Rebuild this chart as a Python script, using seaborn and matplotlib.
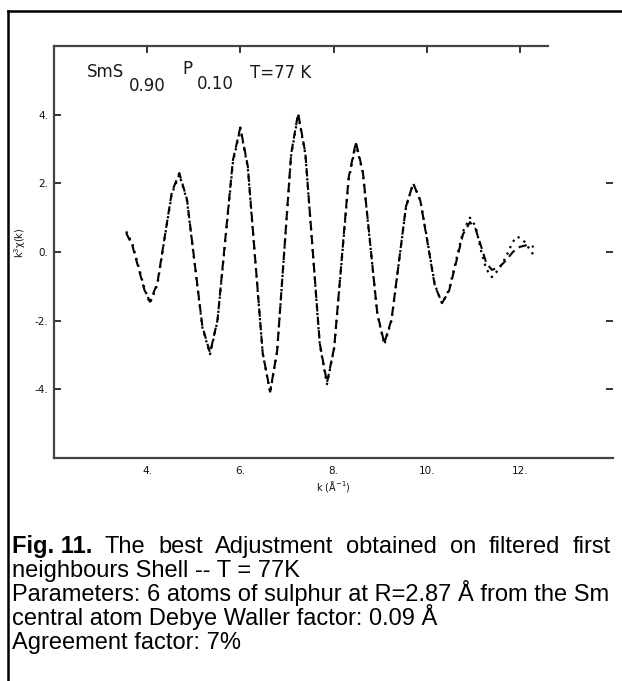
import matplotlib
matplotlib.use("Agg")
import matplotlib.pyplot as plt
import seaborn as sns
import pandas as pd
from matplotlib.lines import Line2D

# k (1/Angstrom) and k^3 chi(k) for the fitted first-shell signal
k_fit = [3.55, 3.68, 3.81, 3.94, 4.06,
         4.22, 4.375, 4.53, 4.69,
         4.855, 5.02, 5.185, 5.35,
         5.51, 5.675, 5.84, 6.0,
         6.16, 6.32, 6.48, 6.64,
         6.79, 6.94, 7.09, 7.24,
         7.395, 7.55, 7.705, 7.86,
         8.015, 8.17, 8.325, 8.48,
         8.63, 8.785, 8.94, 9.09,
         9.245, 9.40, 9.555, 9.71,
         9.865, 10.02, 10.175, 10.33,
         10.48, 10.63, 10.78, 10.93,
         11.05, 11.165, 11.28, 11.40,
         11.55, 11.70, 11.85, 12.0, 12.15, 12.3]
chi_fit = [0.55, 0.2, -0.45, -1.1, -1.45,
           -0.90, 0.43, 1.75, 2.3,
           1.53, -0.32, -2.17, -2.94,
           -1.98, 0.35, 2.67, 3.63,
           2.50, -0.22, -2.94, -4.07,
           -2.88, -0.02, 2.85, 4.04,
           2.89, 0.12, -2.66, -3.81,
           -2.78, -0.31, 2.17, 3.2,
           2.34, 0.28, -1.79, -2.65,
           -1.97, -0.33, 1.32, 2.0,
           1.49, 0.26, -0.98, -1.49,
           -1.14, -0.31, 0.52, 0.87,
           0.67, 0.18, -0.32, -0.52,
           -0.45, -0.25, 0.0, 0.15, 0.2, 0.15]

# filtered experimental signal
k_exp = [3.55, 3.68, 3.81, 3.94, 4.06,
         4.22, 4.375, 4.53, 4.69,
         4.855, 5.02, 5.185, 5.35,
         5.51, 5.675, 5.84, 6.0,
         6.16, 6.32, 6.48, 6.64,
         6.79, 6.94, 7.09, 7.24,
         7.395, 7.55, 7.705, 7.86,
         8.015, 8.17, 8.325, 8.48,
         8.63, 8.785, 8.94, 9.09,
         9.245, 9.40, 9.555, 9.71,
         9.865, 10.02, 10.175, 10.33,
         10.48, 10.63, 10.78, 10.93,
         11.05, 11.165, 11.28, 11.40,
         11.55, 11.70, 11.85, 11.95, 12.1, 12.3]
chi_exp = [0.6, 0.25, -0.4, -1.05, -1.5,
           -0.95, 0.4, 1.7, 2.25,
           1.5, -0.35, -2.2, -2.98,
           -2.0, 0.3, 2.6, 3.6,
           2.45, -0.25, -2.95, -4.1,
           -2.9, -0.05, 2.8, 4.0,
           2.85, 0.1, -2.7, -3.85,
           -2.8, -0.35, 2.1, 3.15,
           2.3, 0.25, -1.8, -2.7,
           -2.0, -0.35, 1.3, 2.0,
           1.5, 0.3, -0.95, -1.5,
           -1.1, -0.25, 0.6, 1.0,
           0.75, 0.05, -0.5, -0.73,
           -0.5, -0.15, 0.3, 0.45, 0.3, -0.1]

x_ticks = [4, 6, 8, 10, 12]
x_tick_labels = ["4.", "6.", "8.", "10.", "12."]
y_ticks = [4, 2, 0, -2, -4]
y_tick_labels = ["4.", "2.", "0.", "-2.", "-4."]

caption_head = "Fig. 11."
caption_line1 = ["The", "best", "Adjustment", "obtained", "on", "filtered", "first"]
caption_rest = [
    "neighbours Shell -- T = 77K",
    "Parameters: 6 atoms of sulphur at R=2.87 \u00c5 from the Sm",
    "central atom Debye Waller factor: 0.09 \u00c5",
    "Agreement factor: 7%",
]

sns.set_theme(style="white")
plt.rcParams["font.family"] = ["DejaVu Sans"]

W, H = 622, 681
fig = plt.figure(figsize=(W / 100, H / 100), dpi=100)
fig.patch.set_facecolor("white")


def fpos(x, y):
    return (x / W, 1 - y / H)


# framed figure panel
fig.add_artist(Line2D([8 / W, 8 / W], [0, 1 - 11 / H], transform=fig.transFigure,
                      color="black", lw=1.8, solid_capstyle="projecting"))
fig.add_artist(Line2D([8 / W, 1], [1 - 11 / H, 1 - 11 / H], transform=fig.transFigure,
                      color="black", lw=1.8, solid_capstyle="projecting"))

ax = fig.add_axes([54 / W, 1 - 458 / H, (613 - 54) / W, (458 - 46) / H])
ax.set_facecolor("white")

df_fit = pd.DataFrame({"k": k_fit, "chi": chi_fit})
df_exp = pd.DataFrame({"k": k_exp, "chi": chi_exp})
sns.lineplot(data=df_exp, x="k", y="chi", ax=ax, color="black", lw=1.6,
             estimator=None, sort=False)
ax.lines[-1].set_linestyle((0, (1.0, 2.2)))
sns.lineplot(data=df_fit, x="k", y="chi", ax=ax, color="black", lw=1.5,
             estimator=None, sort=False)
ax.lines[-1].set_linestyle((0, (4.0, 2.5)))

ax.set_xlim(2, 14)
ax.set_ylim(-6, 6)
ax.set_xticks(x_ticks, x_tick_labels)
ax.set_yticks(y_ticks, y_tick_labels)
ax.tick_params(direction="in", length=5, width=1.4, color="#333333",
               labelsize=7.5, top=True, pad=4, labelcolor="#111111")
ax.tick_params(axis="x", pad=6)
for side in ["left", "bottom", "top"]:
    ax.spines[side].set_color("#444444")
    ax.spines[side].set_linewidth(1.6)
ax.spines["top"].set_bounds(2, 12.6)
ax.spines["right"].set_visible(False)

# tick marks on the right-hand frame
ax_r = ax.twinx()
ax_r.set_ylim(-6, 6)
ax_r.set_yticks([2, 0, -2, -4], [])
ax_r.tick_params(direction="in", length=5, width=1.4, color="#333333")
for s in ax_r.spines.values():
    s.set_visible(False)

ax.set_xlabel("k (\u00c5$^{-1}$)", fontsize=7, labelpad=2, color="#111111")
ax.set_ylabel("")
fig.text(*fpos(20, 243), "k$^3$\u03c7(k)", rotation=90, fontsize=7,
         ha="center", va="center", color="#111111")

# sample label inside the frame
lab = dict(fontsize=12, color="#1a1a1a", va="center", ha="left")
fig.text(*fpos(87, 72), "SmS", **lab)
fig.text(*fpos(129, 86), "0.90", **lab)
fig.text(*fpos(182, 69), "P", **lab)
fig.text(*fpos(197, 84), "0.10", **lab)
fig.text(*fpos(250, 73), "T=77 K", **lab)

# caption below the plot
renderer = fig.canvas.get_renderer()
cap_font = ["Liberation Sans", "DejaVu Sans"]
probe = fig.text(0, 0, caption_rest[1], fontsize=15, family=cap_font)
fs = 15 * 598 / probe.get_window_extent(renderer).width
probe.remove()

baselines = [553, 577, 601, 625, 649]
x0, x1 = 12, 611
cap = dict(fontsize=fs, family=cap_font, va="baseline", color="black")
words = [fig.text(0, 0, caption_head, fontweight="bold", **cap)]
words += [fig.text(0, 0, w, **cap) for w in caption_line1]
widths = [t.get_window_extent(renderer).width for t in words]
gap = (x1 - x0 - sum(widths)) / (len(words) - 1)
x = x0
for t, w in zip(words, widths):
    t.set_position(fpos(x, baselines[0]))
    x += w + gap
for line, b in zip(caption_rest, baselines[1:]):
    fig.text(*fpos(x0, b), line, **cap)

fig.savefig("out.png", dpi=100, facecolor="white")
